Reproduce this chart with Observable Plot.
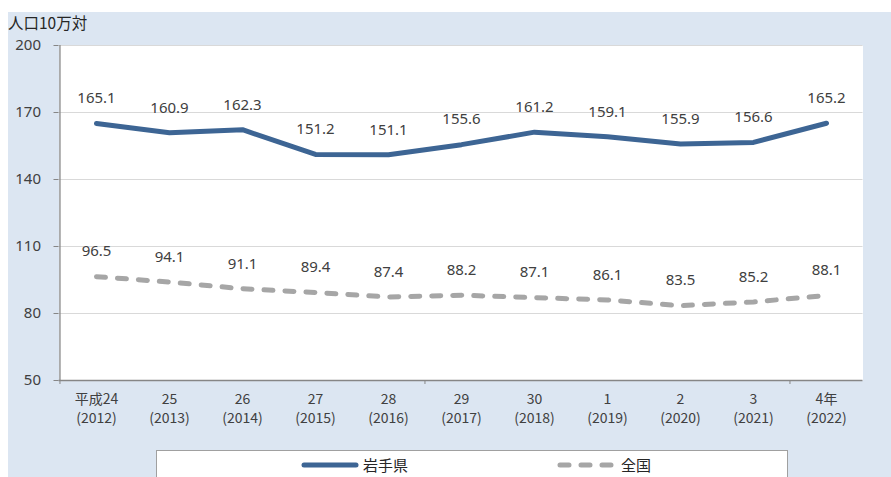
<!DOCTYPE html>
<html>
<head>
<meta charset="utf-8">
<script src="https://cdn.jsdelivr.net/npm/d3@7"></script>
<script src="https://cdn.jsdelivr.net/npm/@observablehq/plot@0.6"></script>
<style>
  html, body { margin: 0; padding: 0; background: #ffffff; width: 891px; height: 477px; overflow: hidden; }
  #bg { position: absolute; left: 8px; top: 12px; right: 0; bottom: 0; background: #dce6f2; }
  #chart { position: absolute; left: 0; top: 0; }
  #ytitle { position: absolute; left: 8px; top: 11px; font: 15.5px "Noto Sans CJK JP", sans-serif; color: #262626; }
  #legend { position: absolute; left: 156px; top: 450px; width: 632px; height: 40px; background: #fff; border: 1px solid #a0a0a0; box-sizing: border-box; }
  .item { position: absolute; top: 3px; display: flex; align-items: center; font: 15px "Noto Sans CJK JP", sans-serif; color: #262626; }
  .item svg { margin-right: 4px; }
</style>
</head>
<body>
<div id="bg"></div>
<div id="chart"></div>
<div id="ytitle">人口10万対</div>
<div id="legend"></div>
<script>
const eras = ["平成24", "25", "26", "27", "28", "29", "30", "1", "2", "3", "4年"];
const years = ["(2012)", "(2013)", "(2014)", "(2015)", "(2016)", "(2017)", "(2018)", "(2019)", "(2020)", "(2021)", "(2022)"];
const iwate = [165.1, 160.9, 162.3, 151.2, 151.1, 155.6, 161.2, 159.1, 155.9, 156.6, 165.2];
const national = [96.5, 94.1, 91.1, 89.4, 87.4, 88.2, 87.1, 86.1, 83.5, 85.2, 88.1];
const yTicks = [50, 80, 110, 140, 170, 200];
const seriesNames = ["岩手県", "全国"];

const cats = years;
const rowsI = cats.map((c, i) => ({cat: c, era: eras[i], v: iwate[i]}));
const rowsN = cats.map((c, i) => ({cat: c, era: eras[i], v: national[i]}));

const W = 891, H = 440, ML = 58.5, MR = 28.5, MT = 45, MB = 60;
const step = (W - ML - MR) / cats.length;
const blue = "#3d6594", gray = "#a6a6a6", axisC = "#868686", txt = "#404040";

const chart = Plot.plot({
  width: W, height: H,
  marginLeft: ML, marginRight: MR, marginTop: MT, marginBottom: MB,
  style: {background: "transparent", overflow: "visible"},
  x: {type: "point", domain: cats, padding: 0.5, axis: null},
  y: {domain: [50, 200], axis: null},
  marks: [
    Plot.frame({fill: "white", stroke: "none"}),
    Plot.gridY(yTicks.filter(d => d > 50), {stroke: "#d9d9d9", strokeOpacity: 1, strokeWidth: 1}),
    Plot.ruleX([cats[0]], {dx: -step / 2, stroke: axisC, strokeWidth: 1.3}),
    Plot.ruleY([50], {stroke: axisC, strokeWidth: 1.3}),
    Plot.axisY(yTicks, {tickSize: 5, stroke: axisC, tickPadding: 13, fontSize: 15, fill: txt, fontFamily: "Noto Sans", label: null}),
    Plot.axisX([cats[0], cats[5], cats[10]], {tickSize: 4, stroke: axisC, dx: -step / 2, tickFormat: () => "", label: null}),
    Plot.text(rowsI, {x: "cat", y: () => 50, text: "era", dy: 19, fontSize: 14, fill: txt, fontFamily: "Noto Sans CJK JP"}),
    Plot.text(rowsI, {x: "cat", y: () => 50, text: "cat", dy: 38, fontSize: 14, fill: txt, fontFamily: "Noto Sans CJK JP"}),
    Plot.line(rowsN, {x: "cat", y: "v", stroke: gray, strokeWidth: 5, strokeDasharray: "9,12", strokeLinecap: "round", strokeLinejoin: "round"}),
    Plot.line(rowsI, {x: "cat", y: "v", stroke: blue, strokeWidth: 5, strokeLinejoin: "round"}),
    Plot.text(rowsI, {x: "cat", y: "v", text: d => d.v.toFixed(1), dy: -25, fontSize: 15, fill: txt, fontFamily: "Noto Sans"}),
    Plot.text(rowsN, {x: "cat", y: "v", text: d => d.v.toFixed(1), dy: -25, fontSize: 15, fill: txt, fontFamily: "Noto Sans"})
  ]
});
document.getElementById("chart").appendChild(chart);

const legend = document.getElementById("legend");
legend.innerHTML =
  `<div class="item" style="left:${300-156}px"><svg width="58" height="10"><line x1="3" y1="5" x2="55" y2="5" stroke="${blue}" stroke-width="5" stroke-linecap="round"/></svg>${seriesNames[0]}</div>` +
  `<div class="item" style="left:${556-156}px"><svg width="60" height="10"><line x1="3" y1="5" x2="57" y2="5" stroke="${gray}" stroke-width="5" stroke-dasharray="9,12" stroke-linecap="round"/></svg>${seriesNames[1]}</div>`;
</script>
</body>
</html>
